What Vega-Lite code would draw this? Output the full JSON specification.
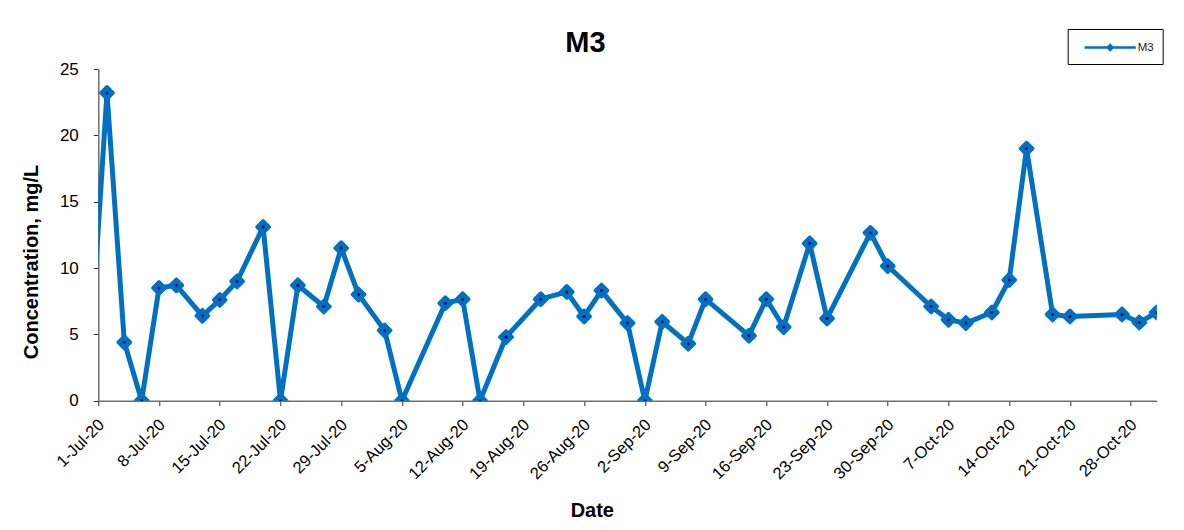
{
  "$schema": "https://vega.github.io/schema/vega-lite/v6.json",
  "width": 1058.4,
  "height": 331.7,
  "autosize": "none",
  "padding": {"left": 98.3, "top": 69, "right": 27.3, "bottom": 129.3},
  "background": "white",
  "config": {
    "font": "Liberation Sans",
    "view": {"stroke": null},
    "axis": {"grid": false, "domainColor": "#707070", "domainWidth": 1.5, "tickColor": "#303030", "tickSize": 5, "labelColor": "black", "titleColor": "black", "labelFont": "Liberation Sans", "titleFont": "Liberation Sans"}
  },
  "title": {
    "text": "M3",
    "fontSize": 29,
    "fontWeight": "bold",
    "font": "Liberation Sans",
    "color": "black",
    "anchor": "middle",
    "frame": "group",
    "dx": -42,
    "dy": 39,
    "offset": 10
  },
  "data": {
    "values": [
      {"date": "2020-06-30", "value": 2.8, "series": "M3"},
      {"date": "2020-07-02", "value": 23.2, "series": "M3"},
      {"date": "2020-07-04", "value": 4.4, "series": "M3"},
      {"date": "2020-07-06", "value": 0, "series": "M3"},
      {"date": "2020-07-08", "value": 8.5, "series": "M3"},
      {"date": "2020-07-10", "value": 8.7, "series": "M3"},
      {"date": "2020-07-13", "value": 6.4, "series": "M3"},
      {"date": "2020-07-15", "value": 7.6, "series": "M3"},
      {"date": "2020-07-17", "value": 9.0, "series": "M3"},
      {"date": "2020-07-20", "value": 13.1, "series": "M3"},
      {"date": "2020-07-22", "value": 0, "series": "M3"},
      {"date": "2020-07-24", "value": 8.7, "series": "M3"},
      {"date": "2020-07-27", "value": 7.1, "series": "M3"},
      {"date": "2020-07-29", "value": 11.5, "series": "M3"},
      {"date": "2020-07-31", "value": 8.0, "series": "M3"},
      {"date": "2020-08-03", "value": 5.3, "series": "M3"},
      {"date": "2020-08-05", "value": 0, "series": "M3"},
      {"date": "2020-08-10", "value": 7.35, "series": "M3"},
      {"date": "2020-08-12", "value": 7.65, "series": "M3"},
      {"date": "2020-08-14", "value": 0, "series": "M3"},
      {"date": "2020-08-17", "value": 4.8, "series": "M3"},
      {"date": "2020-08-21", "value": 7.65, "series": "M3"},
      {"date": "2020-08-24", "value": 8.2, "series": "M3"},
      {"date": "2020-08-26", "value": 6.35, "series": "M3"},
      {"date": "2020-08-28", "value": 8.3, "series": "M3"},
      {"date": "2020-08-31", "value": 5.85, "series": "M3"},
      {"date": "2020-09-02", "value": 0, "series": "M3"},
      {"date": "2020-09-04", "value": 5.95, "series": "M3"},
      {"date": "2020-09-07", "value": 4.3, "series": "M3"},
      {"date": "2020-09-09", "value": 7.65, "series": "M3"},
      {"date": "2020-09-14", "value": 4.9, "series": "M3"},
      {"date": "2020-09-16", "value": 7.65, "series": "M3"},
      {"date": "2020-09-18", "value": 5.55, "series": "M3"},
      {"date": "2020-09-21", "value": 11.85, "series": "M3"},
      {"date": "2020-09-23", "value": 6.2, "series": "M3"},
      {"date": "2020-09-28", "value": 12.65, "series": "M3"},
      {"date": "2020-09-30", "value": 10.15, "series": "M3"},
      {"date": "2020-10-05", "value": 7.1, "series": "M3"},
      {"date": "2020-10-07", "value": 6.1, "series": "M3"},
      {"date": "2020-10-09", "value": 5.85, "series": "M3"},
      {"date": "2020-10-12", "value": 6.65, "series": "M3"},
      {"date": "2020-10-14", "value": 9.1, "series": "M3"},
      {"date": "2020-10-16", "value": 19.0, "series": "M3"},
      {"date": "2020-10-19", "value": 6.5, "series": "M3"},
      {"date": "2020-10-21", "value": 6.35, "series": "M3"},
      {"date": "2020-10-27", "value": 6.5, "series": "M3"},
      {"date": "2020-10-29", "value": 5.9, "series": "M3"},
      {"date": "2020-10-31", "value": 6.65, "series": "M3"}
    ]
  },
  "encoding": {
    "x": {
      "field": "date",
      "type": "temporal",
      "scale": {"type": "utc", "domain": [{"year": 2020, "month": 7, "date": 1, "utc": true}, {"year": 2020, "month": 10, "date": 31, "utc": true}], "nice": false},
      "axis": {
        "title": "Date",
        "titleFontSize": 20,
        "titleFontWeight": "bold",
        "titleX": 493.5,
        "titleY": 109.8,
        "titleAlign": "center",
        "titleBaseline": "middle",
        "labelFontSize": 16.5,
        "labelAngle": -45,
        "labelAlign": "right",
        "labelBaseline": "middle",
        "labelPadding": 16,
        "labelOffset": 3,
        "labelOverlap": false,
        "labelFlush": false,
        "format": "%-d-%b-%y",
        "values": [
          {"year": 2020, "month": 7, "date": 1, "utc": true},
          {"year": 2020, "month": 7, "date": 8, "utc": true},
          {"year": 2020, "month": 7, "date": 15, "utc": true},
          {"year": 2020, "month": 7, "date": 22, "utc": true},
          {"year": 2020, "month": 7, "date": 29, "utc": true},
          {"year": 2020, "month": 8, "date": 5, "utc": true},
          {"year": 2020, "month": 8, "date": 12, "utc": true},
          {"year": 2020, "month": 8, "date": 19, "utc": true},
          {"year": 2020, "month": 8, "date": 26, "utc": true},
          {"year": 2020, "month": 9, "date": 2, "utc": true},
          {"year": 2020, "month": 9, "date": 9, "utc": true},
          {"year": 2020, "month": 9, "date": 16, "utc": true},
          {"year": 2020, "month": 9, "date": 23, "utc": true},
          {"year": 2020, "month": 9, "date": 30, "utc": true},
          {"year": 2020, "month": 10, "date": 7, "utc": true},
          {"year": 2020, "month": 10, "date": 14, "utc": true},
          {"year": 2020, "month": 10, "date": 21, "utc": true},
          {"year": 2020, "month": 10, "date": 28, "utc": true}
        ]
      }
    },
    "y": {
      "field": "value",
      "type": "quantitative",
      "scale": {"domain": [0, 25], "nice": false},
      "axis": {
        "title": "Concentration, mg/L",
        "titleFontSize": 20,
        "titleFontWeight": "bold",
        "titleAngle": -90,
        "titleX": -67.3,
        "titleY": 192.5,
        "titleAlign": "center",
        "titleBaseline": "middle",
        "labelFontSize": 17,
        "labelPadding": 15,
        "values": [0, 5, 10, 15, 20, 25]
      }
    }
  },
  "layer": [
    {
      "mark": {"type": "line", "clip": true, "strokeWidth": 5, "color": "#0070C0", "strokeJoin": "round"},
      "encoding": {
        "color": {
          "field": "series",
          "type": "nominal",
          "scale": {"range": ["#0070C0"]},
          "legend": {
            "title": null,
            "orient": "none",
            "legendX": 969.4,
            "legendY": -40,
            "symbolType": "M-3.2,0H3.2M0,-0.3L0.3,0L0,0.3L-0.3,0Z",
            "symbolSize": 256,
            "symbolStrokeWidth": 2.5,
            "symbolFillColor": "#0070C0",
            "symbolStrokeColor": "#0070C0",
            "labelFontSize": 11.5,
            "labelFont": "Liberation Sans",
            "labelColor": "#222222",
            "labelOffset": 18,
            "strokeColor": "black",
            "fillColor": "white",
            "padding": 9,
            "symbolOffset": 24
          }
        }
      }
    },
    {
      "mark": {"type": "point", "clip": true, "shape": "diamond", "filled": true, "size": 150, "color": "#0070C0", "stroke": "#0070C0", "strokeWidth": 3.5, "strokeJoin": "round", "opacity": 1}
    },
    {
      "mark": {"type": "point", "clip": true, "shape": "circle", "filled": true, "size": 9, "color": "#000070", "opacity": 1}
    }
  ]
}
